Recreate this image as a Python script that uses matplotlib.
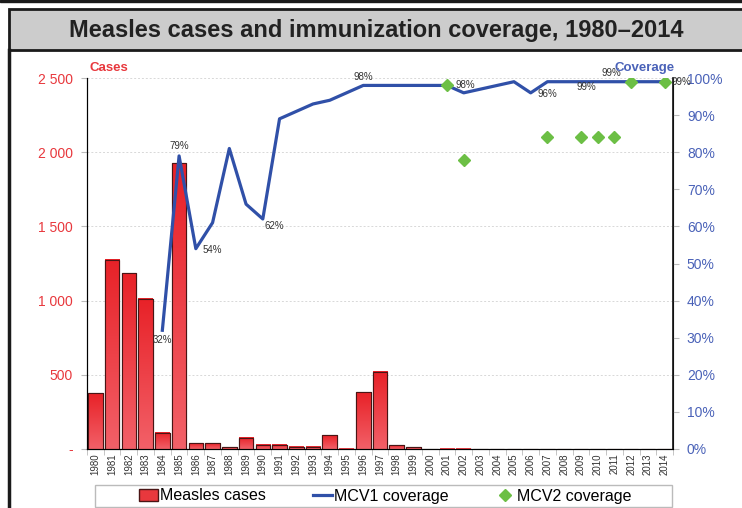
import matplotlib
matplotlib.use('Agg')
from matplotlib import pyplot as plt
from matplotlib.patches import Rectangle, Patch
from matplotlib.lines import Line2D
from matplotlib.ticker import FuncFormatter, FixedLocator
import numpy as np

years = list(range(1980, 2015))
cases = [377, 1276, 1184, 1013, 110, 1925, 38, 38, 12, 76,
         27, 28, 16, 16, 92, 3, 382, 521, 25, 11,
         0, 2, 2, 0, 0, 0, 0, 0, 0, 0,
         0, 0, 0, 0, 0]
mcv1_years = list(range(1984, 2015))
mcv1 = [32, 79, 54, 61, 81, 66, 62, 89, 91, 93,
        94, 96, 98, 98, 98, 98, 98, 98, 96, 97,
        98, 99, 96, 99, 99, 99, 99, 99, 99, 99, 99]
mcv2_years = [2001, 2002, 2007, 2009, 2010, 2011, 2012, 2014]
mcv2 = [98, 78, 84, 84, 84, 84, 99, 99]
# (year, text, offset in points)
labels = [(1984, '32%', (0, -7)), (1985, '79%', (0, 7)), (1986, '54%', (12, -1)),
          (1990, '62%', (8, -5)), (1996, '98%', (0, 6)), (2001, '98%', (13, 0)),
          (2006, '96%', (12, -1)), (2009, '99%', (4, -4)), (2011, '99%', (-2, 6.5)),
          (2014, '99%', (12, -0.5))]

red = '#e8383d'
blue = '#4a62b8'
line_blue = '#3050a8'
green = '#6cbf45'

fig = plt.figure(figsize=(7.42, 5.08), dpi=100)
plt.rcParams['font.family'] = ['Liberation Sans', 'DejaVu Sans']

# frame and title band
fig.patches.append(Rectangle((0, 1 - 2/508), 1, 2/508, transform=fig.transFigure,
                             color='#1a1a1a', zorder=0))
fig.patches.append(Rectangle((9/742, 1 - 50/508), 1, 41/508, transform=fig.transFigure,
                             facecolor='#cccccc', edgecolor='#1a1a1a', lw=2, zorder=0))
fig.lines.append(Line2D([9/742, 9/742], [0, 1 - 50/508], transform=fig.transFigure,
                        color='#1a1a1a', lw=2.5))
fig.text(376/742, 1 - 30/508, 'Measles cases and immunization coverage, 1980\u20132014',
         ha='center', va='center', fontsize=17, fontweight='bold', color='#222222')

ax = fig.add_axes([87/742, 1 - 449/508, 586/742, 371/508])
x = np.arange(len(years))
bars = ax.bar(x, cases, width=0.87, color=red, edgecolor='#4a1515', lw=0.8, zorder=3)
cmap = matplotlib.colors.LinearSegmentedColormap.from_list('g', ['#f26068', '#e82228'])
grad = np.linspace(0, 1, 64).reshape(-1, 1)
for b in bars:
    if b.get_height() > 0:
        ax.imshow(grad, extent=(b.get_x(), b.get_x() + b.get_width(), 0, b.get_height()),
                  origin='lower', cmap=cmap, aspect='auto', zorder=3.5)
        ax.add_patch(Rectangle((b.get_x(), 0), b.get_width(), b.get_height(),
                               fill=False, edgecolor='#4a1515', lw=0.8, zorder=4))
ax.set_xlim(-0.5, len(years) - 0.5)
ax.set_ylim(0, 2500)
ax.set_yticks(range(0, 2501, 500))
ax.yaxis.set_major_formatter(FuncFormatter(
    lambda v, p: '-' if v == 0 else '{:,.0f}'.format(v).replace(',', ' ')))
ax.tick_params(axis='y', colors='#bbbbbb', labelcolor=red, labelsize=10, length=4, pad=6)
ax.grid(axis='y', color='#d8d8d8', ls=(0, (2, 2)), lw=0.7, zorder=0)
ax.set_xticks(x)
ax.set_xticklabels([str(y) for y in years], rotation=90, fontsize=7, color='#333333')
ax.tick_params(axis='x', length=0, pad=3)
ax.xaxis.set_minor_locator(FixedLocator(np.arange(-0.5, len(years), 1)))
ax.tick_params(axis='x', which='minor', length=4, color='#bbbbbb')
ax.spines['top'].set_visible(False)
for s in ['left', 'bottom', 'right']:
    ax.spines[s].set_color('#111111')
ax.set_axisbelow(True)
fig.text(89/742, 1 - 68/508, 'Cases', color=red, fontsize=9.5, fontweight='bold',
         ha='left', va='center')

ax2 = ax.twinx()
ax2.set_ylim(0, 100)
ax2.set_yticks(range(0, 101, 10))
ax2.yaxis.set_major_formatter(FuncFormatter(lambda v, p: '%d%%' % v))
ax2.tick_params(axis='y', colors='#bbbbbb', labelcolor=blue, labelsize=10, length=4, pad=6)
ax2.spines['top'].set_visible(False)
ax2.spines['right'].set_color('#111111')
ax2.spines['right'].set_linewidth(1.2)
xm1 = [years.index(y) for y in mcv1_years]
xm2 = [years.index(y) for y in mcv2_years]
ax2.plot(xm1, mcv1, color=line_blue, lw=2.3, zorder=5)
ax2.plot(xm2, mcv2, ls='none', marker='D', ms=6.5, color=green, zorder=6)
for yr, t, off in labels:
    ax2.annotate(t, (years.index(yr), mcv1[mcv1_years.index(yr)]), xytext=off,
                 textcoords='offset points', ha='center', va='center',
                 fontsize=7, color='#333333', zorder=7)
fig.text(675/742, 1 - 68/508, 'Coverage', color=blue, fontsize=9.5, fontweight='bold',
         ha='right', va='center')

fig.patches.append(Rectangle((95/742, 1/508), 577/742, 22/508, transform=fig.transFigure,
                             facecolor='white', edgecolor='#bbbbbb', lw=1, zorder=1))
handles = [Patch(facecolor=red, edgecolor='#4a1515'),
           Line2D([], [], color=line_blue, lw=2.3),
           Line2D([], [], ls='none', marker='D', ms=6, color=green)]
leg = fig.legend(handles, ['Measles cases', 'MCV1 coverage', 'MCV2 coverage'],
                 loc='center', bbox_to_anchor=(385/742, 12/508),
                 ncol=3, fontsize=11.5, frameon=False,
                 borderpad=0, handlelength=1.2, handleheight=0.7, handletextpad=0.15,
                 columnspacing=2.9)

fig.savefig('out.png', dpi=100)
